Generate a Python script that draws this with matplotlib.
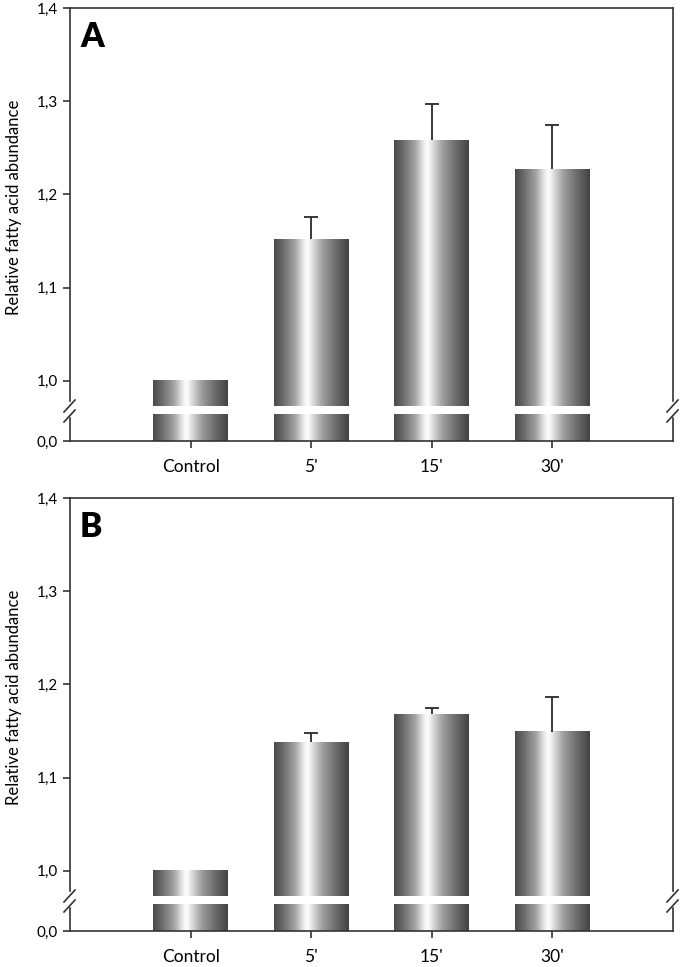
import numpy as np
import matplotlib
matplotlib.use("Agg")
import matplotlib.pyplot as plt
from matplotlib.colors import LinearSegmentedColormap
from matplotlib import transforms
from matplotlib.lines import Line2D
from matplotlib.ticker import FuncFormatter

plt.rcParams['font.family'] = ['Lato', 'DejaVu Sans']

groups = ["Control", "5'", "15'", "30'"]
panel_a_mean = [1.0, 1.152, 1.258, 1.227]
panel_a_err = [0.0, 0.024, 0.039, 0.047]
panel_b_mean = [1.0, 1.138, 1.168, 1.149]
panel_b_err = [0.0, 0.010, 0.007, 0.038]
yticks_top = [1.0, 1.1, 1.2, 1.3, 1.4]

W, H = 680, 967
SPINE = '#333333'

shade = LinearSegmentedColormap.from_list('cyl', [
    (0.00, (0.29, 0.29, 0.29)),
    (0.12, (0.42, 0.42, 0.42)),
    (0.28, (0.64, 0.64, 0.64)),
    (0.40, (0.93, 0.93, 0.93)),
    (0.45, (1.00, 1.00, 1.00)),
    (0.52, (0.86, 0.86, 0.86)),
    (0.65, (0.62, 0.62, 0.62)),
    (0.80, (0.45, 0.45, 0.45)),
    (1.00, (0.26, 0.26, 0.26)),
])
grad = np.linspace(0, 1, 256).reshape(1, -1)

fmt = FuncFormatter(lambda v, p: f'{v:.1f}'.replace('.', ','))


def px_axes(fig, left, top, right, bottom):
    return fig.add_axes([left / W, 1 - bottom / H, (right - left) / W, (bottom - top) / H])


def shaded_bars(ax, x, vals):
    # bars drawn invisibly, then filled with a cylinder-like gradient
    bars = ax.bar(x, vals, width=0.62, facecolor='none', edgecolor='none', zorder=2)
    for b in bars:
        x0, y0 = b.get_x(), b.get_y()
        ax.imshow(grad, extent=[x0, x0 + b.get_width(), y0, y0 + b.get_height()],
                  aspect='auto', cmap=shade, vmin=0, vmax=1, zorder=2,
                  interpolation='bilinear')


def style(ax):
    for s in ax.spines.values():
        s.set_color(SPINE)
        s.set_linewidth(1.2)
    ax.tick_params(color=SPINE, width=1.2, length=5, direction='out', labelsize=11)


def slashes(fig, ax, xfrac):
    # break marks, offsets in pixels around the bottom corner of the upper axes
    tr = fig.dpi_scale_trans + transforms.ScaledTranslation(xfrac, 0, ax.transAxes)
    for (dx0, dy0, dx1, dy1) in [(5, 6, -6, -6), (5, -4, -6, -16)]:
        fig.add_artist(Line2D([dx0 / 100, dx1 / 100], [dy0 / 100, dy1 / 100],
                              transform=tr, color=SPINE, lw=1.2, clip_on=False))


def panel(fig, top_px, mean, err, letter):
    x = np.arange(len(groups))
    ax = px_axes(fig, 70, top_px, 673, top_px + 398)
    axb = px_axes(fig, 70, top_px + 406, 673, top_px + 433)

    shaded_bars(ax, x, mean)
    shaded_bars(axb, x, mean)

    m = np.array(err) > 0
    eb = ax.errorbar(x[m], np.array(mean)[m], yerr=[np.zeros(m.sum()), np.array(err)[m]],
                     fmt='none', ecolor='#2a2a2a', elinewidth=1.3, capsize=4.7,
                     capthick=1.3, zorder=3)
    eb[1][0].set_visible(False)  # only the upper cap

    for a in (ax, axb):
        a.set_xlim(-1, 4)
        style(a)
    ax.set_ylim(0.973, 1.4)
    axb.set_ylim(0, 0.1)

    ax.spines['bottom'].set_visible(False)
    axb.spines['top'].set_visible(False)
    ax.spines['left'].set_bounds(0.978, 1.4)
    ax.spines['right'].set_bounds(0.978, 1.4)
    axb.spines['left'].set_bounds(0, 0.085)
    axb.spines['right'].set_bounds(0, 0.085)

    ax.set_xticks([])
    ax.set_yticks(yticks_top)
    ax.yaxis.set_major_formatter(fmt)
    axb.set_yticks([0.0])
    axb.yaxis.set_major_formatter(fmt)
    axb.set_xticks(x)
    axb.set_xticklabels(groups, fontsize=12.5)
    axb.tick_params(axis='x', pad=8)

    ax.set_ylabel('Relative fatty acid abundance', fontsize=12)
    ax.yaxis.set_label_coords(-0.08, 0.5)
    ax.text(0.0166, 0.968, letter, transform=ax.transAxes, fontsize=24,
            fontweight='heavy', va='top', ha='left')

    slashes(fig, ax, 0)
    slashes(fig, ax, 1)


def main():
    fig = plt.figure(figsize=(W / 100, H / 100), dpi=100)
    panel(fig, 8, panel_a_mean, panel_a_err, 'A')
    panel(fig, 498, panel_b_mean, panel_b_err, 'B')
    fig.savefig('out.png', dpi=100)
    plt.close(fig)


if __name__ == '__main__':
    main()
